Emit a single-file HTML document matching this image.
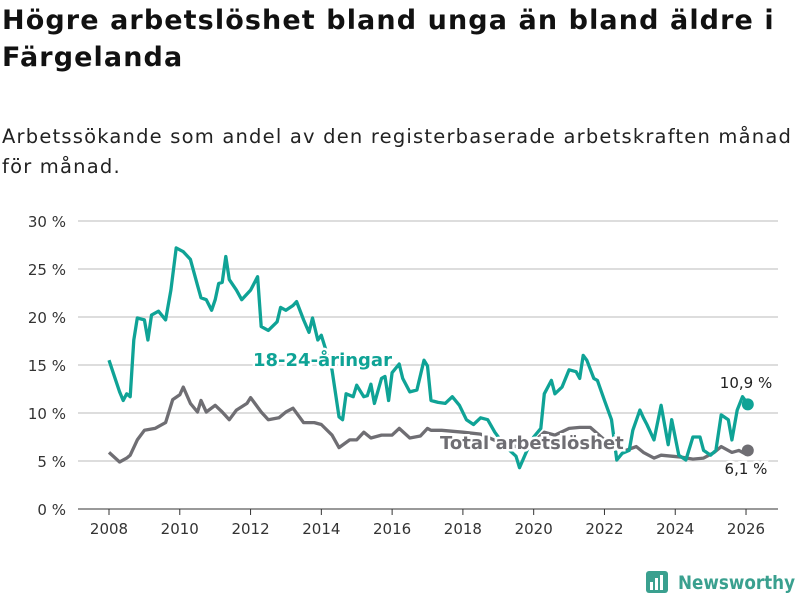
<!DOCTYPE html>
<html><head><meta charset="utf-8"><style>
body{margin:0;width:800px;height:600px;background:#fff;font-family:"DejaVu Sans","Liberation Sans",sans-serif;overflow:hidden;position:relative}
h1{position:absolute;left:2px;top:2px;margin:0;font-size:27px;line-height:37px;font-weight:bold;color:#111;width:798px;letter-spacing:1.1px;white-space:nowrap}
p{position:absolute;left:2px;top:122px;margin:0;font-size:19.5px;line-height:30px;color:#222;letter-spacing:1.2px;width:798px;white-space:nowrap}
svg{position:absolute;left:0;top:0}
</style></head><body>
<h1>Högre arbetslöshet bland unga än bland äldre i<br>Färgelanda</h1>
<p>Arbetssökande som andel av den registerbaserade arbetskraften månad<br>för månad.</p>
<svg id="c" width="800" height="600"></svg>
<script>
const yTicks=[0,5,10,15,20,25,30];
const xTicks=[2008,2010,2012,2014,2016,2018,2020,2022,2024,2026];
const youthT=[2008.0,2008.3,2008.4,2008.5,2008.6,2008.7,2008.8,2009.0,2009.1,2009.2,2009.4,2009.6,2009.75,2009.9,2010.1,2010.3,2010.5,2010.6,2010.75,2010.9,2011.0,2011.1,2011.2,2011.3,2011.4,2011.6,2011.75,2012.0,2012.2,2012.3,2012.5,2012.75,2012.85,2013.0,2013.2,2013.3,2013.5,2013.65,2013.75,2013.9,2014.0,2014.3,2014.5,2014.6,2014.7,2014.9,2015.0,2015.2,2015.3,2015.4,2015.5,2015.7,2015.8,2015.9,2016.0,2016.2,2016.3,2016.5,2016.7,2016.9,2017.0,2017.1,2017.3,2017.5,2017.7,2017.9,2018.1,2018.3,2018.5,2018.7,2018.9,2019.2,2019.5,2019.6,2019.8,2020.0,2020.2,2020.3,2020.5,2020.6,2020.8,2021.0,2021.2,2021.3,2021.4,2021.5,2021.7,2021.8,2022.0,2022.2,2022.35,2022.5,2022.7,2022.8,2023.0,2023.1,2023.2,2023.4,2023.6,2023.8,2023.9,2024.1,2024.3,2024.5,2024.7,2024.8,2025.0,2025.15,2025.3,2025.5,2025.6,2025.75,2025.9,2026.0,2026.05];
const youthV=[15.5,12.2,11.3,12,11.7,17.6,19.9,19.7,17.6,20.2,20.6,19.7,22.8,27.2,26.8,26,23.3,22,21.8,20.7,21.8,23.5,23.6,26.3,23.9,22.8,21.8,22.8,24.2,19,18.6,19.5,21,20.7,21.2,21.6,19.7,18.4,19.9,17.6,18.1,14.5,9.6,9.3,12,11.7,12.9,11.7,11.8,13,11,13.6,13.8,11.3,14.2,15.1,13.6,12.2,12.4,15.5,14.9,11.3,11.1,11,11.7,10.8,9.3,8.8,9.5,9.3,8,6.5,5.5,4.3,6,7.5,8.4,12,13.4,12,12.7,14.5,14.3,13.6,16,15.5,13.6,13.4,11.3,9.3,5.1,5.8,6.1,8.2,10.3,9.5,8.8,7.2,10.8,6.7,9.3,5.6,5.1,7.5,7.5,6.1,5.6,6.1,9.8,9.3,7.2,10.3,11.7,11.2,10.9];
const totalT=[2008.0,2008.3,2008.5,2008.6,2008.8,2009.0,2009.3,2009.6,2009.8,2010.0,2010.1,2010.3,2010.5,2010.6,2010.75,2011.0,2011.2,2011.4,2011.6,2011.9,2012.0,2012.3,2012.5,2012.8,2013.0,2013.2,2013.5,2013.8,2014.0,2014.3,2014.5,2014.8,2015.0,2015.2,2015.4,2015.7,2016.0,2016.2,2016.5,2016.8,2017.0,2017.1,2017.4,2018.0,2018.5,2019.0,2019.5,2020.0,2020.3,2020.6,2021.0,2021.3,2021.6,2022.0,2022.3,2022.6,2022.9,2023.1,2023.4,2023.6,2023.9,2024.2,2024.5,2024.8,2025.1,2025.3,2025.6,2025.8,2025.95,2026.05];
const totalV=[5.9,4.9,5.3,5.6,7.2,8.2,8.4,9,11.4,11.9,12.7,11,10.1,11.3,10.1,10.8,10.1,9.3,10.3,11,11.6,10.1,9.3,9.5,10.1,10.5,9,9,8.8,7.7,6.4,7.2,7.2,8,7.4,7.7,7.7,8.4,7.4,7.6,8.4,8.2,8.2,8,7.8,7,6.5,7,8,7.7,8.4,8.5,8.5,7.2,6.4,6.1,6.5,5.9,5.3,5.6,5.5,5.4,5.2,5.3,5.9,6.5,5.9,6.1,5.8,6.1];
const X=t=>109+(t-2008)*35.39, Y=v=>509-v*9.6;
const s=document.getElementById('c'),NS='http://www.w3.org/2000/svg';
function el(tag,a,txt){const e=document.createElementNS(NS,tag);for(const k in a)e.setAttribute(k,a[k]);if(txt!=null)e.textContent=txt;s.appendChild(e);return e;}
yTicks.forEach(v=>{
const g=el('line',{x1:78,x2:778,y1:Y(v),y2:Y(v),stroke:v?'#ddd':'#333','stroke-width':v?2:1});


const t=el('text',{x:66,y:Y(v)+6,'text-anchor':'end','font-size':15,fill:'#333'},v+' %');

});
xTicks.forEach(y=>{
const k=el('line',{x1:X(y),x2:X(y),y1:509,y2:515,stroke:'#333'});


const t=el('text',{x:X(y),y:534,'text-anchor':'middle','font-size':15,fill:'#333'},y);

});
function line(T,V,c,n){const p=el('path',{d:T.map((t,i)=>(i?'L':'M')+X(t).toFixed(1)+','+Y(V[i]).toFixed(1)).join(''),fill:'none',stroke:c,'stroke-width':3.3,'stroke-linejoin':'round'});


const d=el('circle',{cx:X(T[T.length-1]),cy:Y(V[V.length-1]),r:6,fill:c});

}
line(totalT,totalV,'#6f6e73','total-line');
line(youthT,youthV,'#0fa396','youth-line');
function lab(x,y,t,c,sz,w,n,a){const e=el('text',{x:x,y:y,'font-size':sz,'font-weight':w,fill:c,stroke:'#fff','stroke-width':5,'paint-order':'stroke','text-anchor':a||'start'},t);

}
lab(253,366,'18-24-åringar','#0fa396',18,'bold','youth-label');
lab(440,449,'Total arbetslöshet','#6f6e73',18,'bold','total-label');
lab(746,388,'10,9 %','#222',15,'normal','youth-end-value','middle');
lab(746,474,'6,1 %','#222',15,'normal','total-end-value','middle');
const lg=el('g',{});
el('rect',{x:646,y:571,width:22,height:22,rx:3,fill:'#3aa08f'});
el('rect',{x:650,y:582,width:3,height:8,fill:'#fff'});el('rect',{x:655,y:578,width:3,height:12,fill:'#fff'});el('rect',{x:660,y:575,width:3,height:15,fill:'#fff'});
el('text',{x:678,y:589,'font-size':19,'font-weight':'bold',fill:'#3aa08f',textLength:117,lengthAdjust:'spacingAndGlyphs'},'Newsworthy');
</script>
</body></html>
